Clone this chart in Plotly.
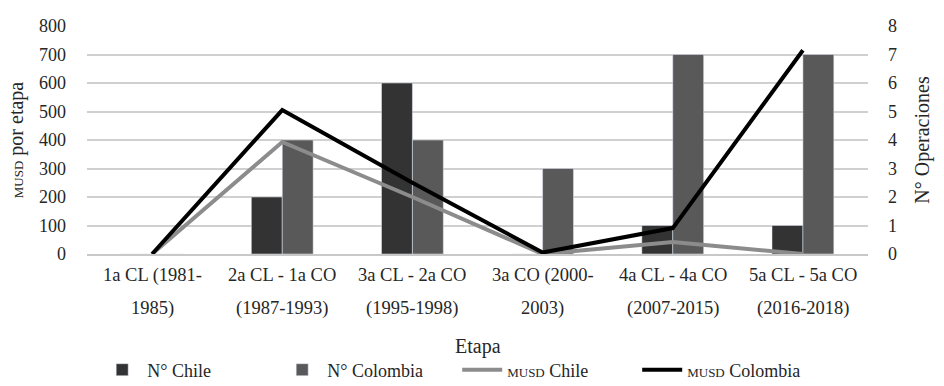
import plotly.graph_objects as go

cat_line1 = ["1a CL (1981-", "2a CL - 1a CO", "3a CL - 2a CO", "3a CO (2000-", "4a CL - 4a CO", "5a CL - 5a CO"]
cat_line2 = ["1985)", "(1987-1993)", "(1995-1998)", "2003)", "(2007-2015)", "(2016-2018)"]
categories = [a + " " + b for a, b in zip(cat_line1, cat_line2)]
n_chile = [0, 2, 6, 0, 1, 1]
n_colombia = [0, 4, 4, 3, 7, 7]
musd_chile = [0, 393, 200, 0, 42, 0]
musd_colombia = [0, 505, 250, 5, 91, 715]

FONT = "Liberation Serif, Times New Roman, serif"
TXT = "#262626"
SC = '<span style="font-size:13px">MUSD</span>'

fig = go.Figure()
fig.add_trace(go.Bar(x=categories, y=n_chile, name="N° Chile", marker_color="#333333", yaxis="y"))
fig.add_trace(go.Bar(x=categories, y=n_colombia, name="N° Colombia", marker_color="#595959", yaxis="y"))
fig.add_trace(go.Scatter(x=categories, y=musd_chile, name=SC + " Chile", mode="lines",
                         line=dict(color="#8c8c8c", width=4), yaxis="y2"))
fig.add_trace(go.Scatter(x=categories, y=musd_colombia, name=SC + " Colombia", mode="lines",
                         line=dict(color="#000000", width=4), yaxis="y2"))

annotations = []
for c, l1, l2 in zip(categories, cat_line1, cat_line2):
    annotations.append(dict(x=c, xref="x", y=0, yref="paper", yshift=-21, text=l1, showarrow=False,
                            yanchor="middle", xanchor="center",
                            font=dict(family=FONT, size=18.5, color=TXT)))
    annotations.append(dict(x=c, xref="x", y=0, yref="paper", yshift=-54, text=l2, showarrow=False,
                            yanchor="middle", xanchor="center",
                            font=dict(family=FONT, size=18.5, color=TXT)))
annotations.append(dict(x=0.5, xref="paper", y=0, yref="paper", yshift=-92, text="Etapa", showarrow=False,
                        yanchor="middle", xanchor="center", font=dict(family=FONT, size=20, color=TXT)))

fig.update_layout(
    width=944, height=386,
    margin=dict(l=87, r=76, t=26, b=132, autoexpand=False),
    paper_bgcolor="white", plot_bgcolor="white",
    font=dict(family=FONT, size=18, color=TXT),
    barmode="group", bargap=0.525, bargroupgap=0,
    xaxis=dict(showgrid=False, showline=True, linecolor="#c8c8c8", linewidth=1.5,
               showticklabels=False, ticks=""),
    yaxis=dict(title=dict(text="N° Operaciones", font=dict(family=FONT, size=20), standoff=18),
               side="right", range=[0, 8], dtick=1, showgrid=True, gridcolor="#d0d0d0", gridwidth=1.5,
               zeroline=False, ticks="", tickfont=dict(family=FONT, size=18), ticklabelstandoff=19),
    yaxis2=dict(title=dict(text=SC + " por etapa", font=dict(family=FONT, size=20), standoff=10),
                overlaying="y", side="left", range=[0, 800], dtick=100, showgrid=False,
                zeroline=False, ticks="", tickfont=dict(family=FONT, size=18), ticklabelstandoff=20),
    legend=dict(orientation="h", x=0.474, xanchor="center", y=-116 / 228, yanchor="middle",
                font=dict(family=FONT, size=18, color=TXT), traceorder="normal", entrywidth=125,
                itemwidth=40, bgcolor="rgba(0,0,0,0)"),
    annotations=annotations,
)

fig.write_html("out.html", config={"displayModeBar": False},
               post_script="document.body.style.margin='0';document.body.style.overflow='hidden';")
